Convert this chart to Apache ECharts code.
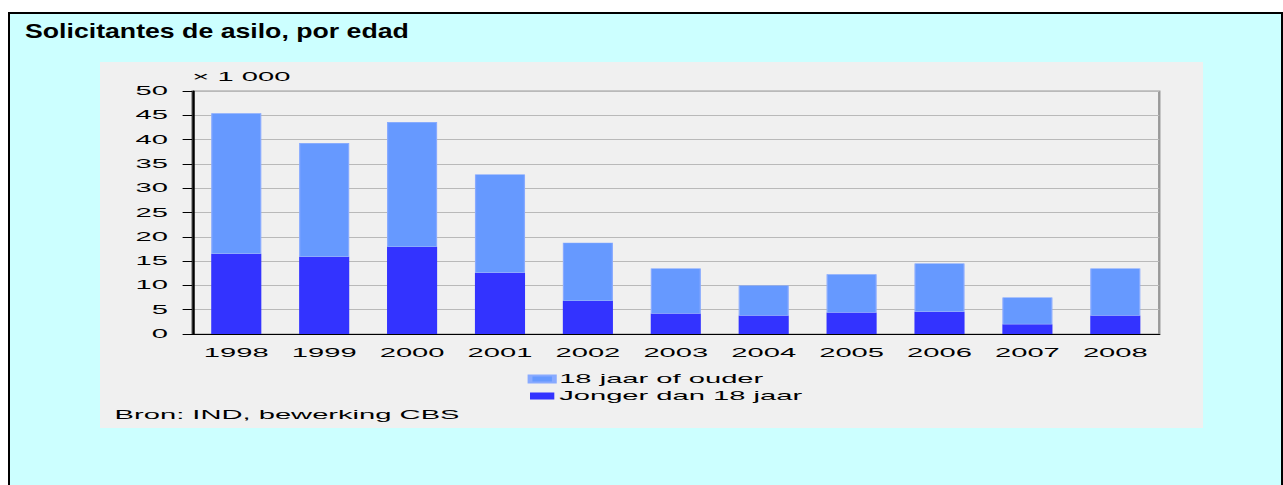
<!DOCTYPE html>
<html>
<head>
<meta charset="utf-8">
<script src="https://cdn.jsdelivr.net/npm/echarts@6/dist/echarts.min.js"></script>
<style>
	html, body {
		margin: 0;
		padding: 0;
		width: 1283px;
		height: 485px;
		overflow: hidden;
		background: #ffffff;
		font-family: "Liberation Sans", Arial, sans-serif;
	}
	#card {
		position: absolute;
		left: 8px;
		top: 12px;
		width: 1271px;
		height: 500px;
		border: 2px solid #000;
		border-bottom: none;
		background: #ccffff;
	}
	#title {
		position: absolute;
		left: 25px;
		top: 19px;
		font-size: 21px;
		line-height: 24px;
		font-weight: bold;
		color: #000;
		transform: scaleX(1.27);
		transform-origin: left top;
		white-space: nowrap;
	}
	/* the source picture is stretched sideways, so is the chart */
	#myCharts {
		position: absolute;
		left: 100px;
		top: 62px;
		width: 454px;
		height: 366px;
		transform: scaleX(2.4295);
		transform-origin: left top;
	}
</style>
</head>
<body>
<div id="card"></div>
<div id="title">Solicitantes de asilo, por edad</div>
<div id="myCharts"></div>
<script>
	// asylum seekers x 1 000
	var years = ['1998', '1999', '2000', '2001', '2002', '2003', '2004', '2005', '2006', '2007', '2008'];
	var young = [16.5, 15.9, 17.9, 12.6, 6.8, 4.2, 3.8, 4.4, 4.6, 2.0, 3.8];
	var adult = [28.9, 23.4, 25.7, 20.2, 12.0, 9.3, 6.2, 7.9, 9.9, 5.5, 9.7];
	var legendNames = ['18 jaar of ouder', 'Jonger dan 18 jaar'];

	var font = '"Liberation Sans", Arial, sans-serif';

	var mychart = echarts.init(document.getElementById('myCharts'), null, { renderer: 'svg' });
	var option = {
		animation: false,
		backgroundColor: '#f0f0f0',
		textStyle: { fontFamily: font },
		grid: {
			left: 38,
			right: 18,
			top: 29,
			bottom: 94,
			show: true,
			borderColor: '#999',
			borderWidth: 1,
			backgroundColor: 'transparent'
		},
		legend: {
			orient: 'vertical',
			left: 176,
			top: 311,
			padding: 0,
			itemWidth: 10,
			itemHeight: 7,
			itemGap: 5,
			icon: 'rect',
			data: legendNames,
			textStyle: { color: '#000', fontSize: 12, fontFamily: font, padding: [0, 0, 0, -3] }
		},
		graphic: [
			{
				type: 'text',
				left: 38,
				top: 9,
				style: { text: '× 1 000', fill: '#000', font: '12px ' + font }
			},
			{
				type: 'text',
				left: 6,
				top: 347,
				style: { text: 'Bron: IND, bewerking CBS', fill: '#000', font: '12px ' + font }
			}
		],
		xAxis: {
			type: 'category',
			data: years,
			axisLine: { lineStyle: { color: '#000', width: 1 } },
			axisTick: { show: false },
			axisLabel: { color: '#000', fontSize: 12, margin: 13, fontFamily: font }
		},
		yAxis: {
			type: 'value',
			min: 0,
			max: 50,
			interval: 5,
			axisLine: { show: true, lineStyle: { color: '#000', width: 1 } },
			axisTick: { show: true, length: 4, lineStyle: { color: '#000' } },
			axisLabel: { color: '#000', fontSize: 12, margin: 10, fontFamily: font },
			splitLine: { lineStyle: { color: '#b9b9b9', width: 1 } }
		},
		series: [
			{
				name: 'Jonger dan 18 jaar',
				type: 'bar',
				stack: 'total',
				barWidth: '57%',
				data: young,
				itemStyle: { color: '#3333ff' }
			},
			{
				name: '18 jaar of ouder',
				type: 'bar',
				stack: 'total',
				data: adult,
				itemStyle: { color: '#6699ff', borderColor: '#88aaff', borderWidth: 0.5 }
			}
		]
	};
	mychart.setOption(option);
</script>
</body>
</html>
